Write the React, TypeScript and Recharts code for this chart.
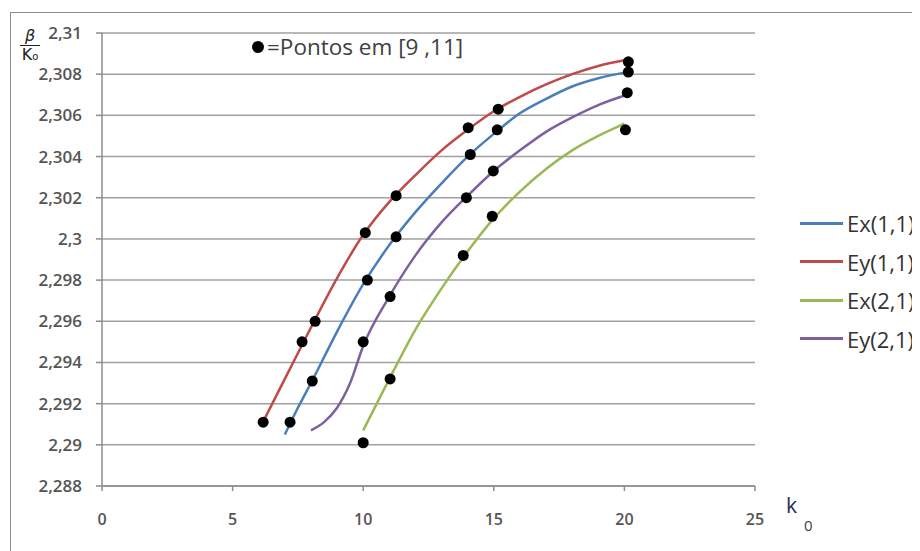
import React from "react";
import {
  ComposedChart,
  Line,
  Scatter,
  XAxis,
  YAxis,
  CartesianGrid,
} from "recharts";

// curves (smoothed lines)
const exOneOne = [
  { x: 7.0, y: 2.2905 }, { x: 7.5, y: 2.2918 }, { x: 8, y: 2.293 }, { x: 9, y: 2.2955 },
  { x: 10, y: 2.2978 }, { x: 11, y: 2.2997 }, { x: 12, y: 2.3013 }, { x: 13, y: 2.3027 },
  { x: 14, y: 2.304 }, { x: 15, y: 2.3051 }, { x: 16, y: 2.3061 }, { x: 17, y: 2.3068 },
  { x: 18, y: 2.3074 }, { x: 19, y: 2.3078 }, { x: 20.1, y: 2.3081 },
];
const eyOneOne = [
  { x: 6.2, y: 2.2912 }, { x: 7, y: 2.2932 }, { x: 8, y: 2.2957 }, { x: 9, y: 2.2981 },
  { x: 10, y: 2.3002 }, { x: 11, y: 2.3018 }, { x: 12, y: 2.3031 }, { x: 13, y: 2.3043 },
  { x: 14, y: 2.3053 }, { x: 15, y: 2.3062 }, { x: 16, y: 2.3069 }, { x: 17, y: 2.3075 },
  { x: 18, y: 2.308 }, { x: 19, y: 2.3084 }, { x: 20.1, y: 2.3087 },
];
const exTwoOne = [
  { x: 10, y: 2.2907 }, { x: 11, y: 2.2932 }, { x: 12, y: 2.2956 }, { x: 13, y: 2.2976 },
  { x: 14, y: 2.2994 }, { x: 15, y: 2.301 }, { x: 16, y: 2.3023 }, { x: 17, y: 2.3034 },
  { x: 18, y: 2.3043 }, { x: 19, y: 2.305 }, { x: 20, y: 2.3056 },
];
const eyTwoOne = [
  { x: 8.0, y: 2.2907 }, { x: 8.5, y: 2.2911 }, { x: 9, y: 2.2918 }, { x: 9.5, y: 2.293 },
  { x: 10, y: 2.2948 }, { x: 11, y: 2.2972 }, { x: 12, y: 2.2992 }, { x: 13, y: 2.3008 },
  { x: 14, y: 2.3021 }, { x: 15, y: 2.3033 }, { x: 16, y: 2.3043 }, { x: 17, y: 2.3052 },
  { x: 18, y: 2.3059 }, { x: 19, y: 2.3065 }, { x: 20.1, y: 2.307 },
];

// black points ("Pontos em [9,11]")
const points = [
  { x: 6.17, y: 2.2911 }, { x: 7.66, y: 2.2950 }, { x: 8.16, y: 2.2960 }, { x: 10.08, y: 2.3003 },
  { x: 11.26, y: 2.3021 }, { x: 14.02, y: 2.3054 }, { x: 15.17, y: 2.3063 }, { x: 20.15, y: 2.3086 },
  { x: 7.2, y: 2.2911 }, { x: 8.05, y: 2.2931 }, { x: 10.16, y: 2.298 }, { x: 11.26, y: 2.3001 },
  { x: 14.1, y: 2.3041 }, { x: 15.13, y: 2.3053 }, { x: 20.15, y: 2.3081 },
  { x: 10.0, y: 2.2950 }, { x: 11.03, y: 2.2972 }, { x: 13.95, y: 2.302 }, { x: 14.98, y: 2.3033 },
  { x: 20.11, y: 2.3071 },
  { x: 10.0, y: 2.2901 }, { x: 11.03, y: 2.2932 }, { x: 13.83, y: 2.2992 }, { x: 14.94, y: 2.3011 },
  { x: 20.04, y: 2.3053 },
];

const xTicks = [0, 5, 10, 15, 20, 25];
const yTicks = [2.288, 2.29, 2.292, 2.294, 2.296, 2.298, 2.3, 2.302, 2.304, 2.306, 2.308, 2.31];

const series = [
  { name: "Ex(1,1)", data: exOneOne, color: "#4a7ebb" },
  { name: "Ey(1,1)", data: eyOneOne, color: "#be4b48" },
  { name: "Ex(2,1)", data: exTwoOne, color: "#98b954" },
  { name: "Ey(2,1)", data: eyTwoOne, color: "#7d60a0" },
];

const FONT = "'Open Sans', sans-serif";

const fmt = (v: number) => String(v).replace(".", ",");

export default function App() {
  return (
    <div
      style={{
        position: "relative",
        marginLeft: 2,
        marginTop: 4,
        width: 909,
        height: 539,
        borderLeft: "1px solid #8c8c8c",
        borderTop: "1px solid #8c8c8c",
        fontFamily: FONT,
        overflow: "hidden",
      }}
    >
      <ComposedChart
        width={900}
        height={539}
        margin={{ top: 20, right: 156, left: 0, bottom: 36 }}
      >
        <CartesianGrid vertical={false} stroke="#a0a0a0" strokeWidth={1.5} />
        <XAxis
          type="number"
          dataKey="x"
          domain={[0, 25]}
          ticks={xTicks}
          height={30}
          stroke="#8c8c8c"
          strokeWidth={1.5}
          tickSize={5}
          tickMargin={23}
          tick={{ fill: "#555", fontSize: 16, fontFamily: FONT, fontWeight: 600 }}
        />
        <YAxis
          type="number"
          dataKey="y"
          domain={[2.288, 2.31]}
          ticks={yTicks}
          width={91}
          stroke="#8c8c8c"
          strokeWidth={1.5}
          tickSize={6}
          tickMargin={14}
          tickFormatter={fmt}
          tick={{ fill: "#555", fontSize: 17, fontFamily: FONT, fontWeight: 600 }}
        />
        {series.map((s) => (
          <Line
            key={s.name}
            data={s.data}
            dataKey="y"
            type="monotone"
            stroke={s.color}
            strokeWidth={2.5}
            dot={false}
            isAnimationActive={false}
          />
        ))}
        <Scatter
          data={points}
          dataKey="y"
          fill="#000"
          shape={(p: any) => <circle cx={p.cx} cy={p.cy} r={5.5} fill="#000" />}
          isAnimationActive={false}
        />
      </ComposedChart>

      {/* y label: beta over k0 */}
      <div
        style={{
          position: "absolute",
          left: 9,
          top: 15,
          width: 20,
          textAlign: "center",
          fontFamily: "'DejaVu Sans', sans-serif",
          color: "#222",
          lineHeight: 1,
        }}
      >
        <div style={{ fontSize: 16, fontStyle: "italic", borderBottom: "1px solid #222", paddingBottom: 1 }}>β</div>
        <div style={{ fontSize: 16, paddingTop: 1 }}>
          K<span style={{ fontSize: 10 }}>o</span>
        </div>
      </div>

      {/* annotation */}
      <div
        style={{
          position: "absolute",
          left: 241,
          top: 18,
          fontSize: 22.5,
          color: "#404040",
          display: "flex",
          alignItems: "center",
          whiteSpace: "nowrap",
        }}
      >
        <span
          style={{
            display: "inline-block",
            width: 12,
            height: 12,
            borderRadius: "50%",
            background: "#000",
            marginRight: 3,
          }}
        />
        =Pontos em [9 ,11]
      </div>

      {/* legend */}
      <div style={{ position: "absolute", left: 789, top: 191 }}>
        {series.map((s) => (
          <div
            key={s.name}
            style={{ display: "flex", alignItems: "center", height: 38.5, whiteSpace: "nowrap" }}
          >
            <span style={{ display: "inline-block", width: 43, height: 3, background: s.color, marginRight: 4 }} />
            <span style={{ fontSize: 22, color: "#333" }}>{s.name}</span>
          </div>
        ))}
      </div>

      {/* x label */}
      <div style={{ position: "absolute", left: 775, top: 478, color: "#1f2a50", fontSize: 21, whiteSpace: "nowrap" }}>
        k
        <span style={{ fontSize: 15, position: "relative", top: 18, left: 7, color: "#404040" }}>0</span>
      </div>
    </div>
  );
}
